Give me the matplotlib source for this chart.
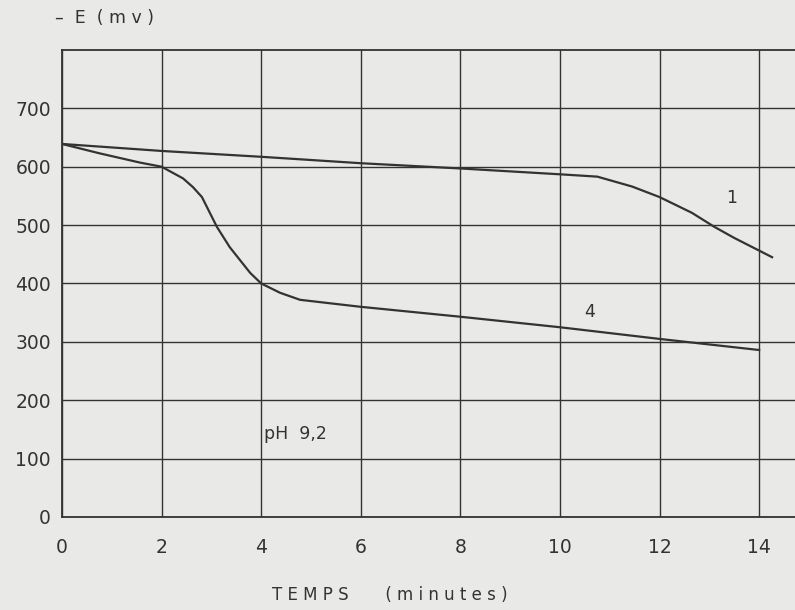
import matplotlib.pyplot as plt

# curve 1
t1 = [0, 2, 4, 6, 8, 10, 10.75, 11.45, 12, 12.65, 13.1, 13.5, 14.26]
e1 = [639, 627, 617, 606, 597, 587, 583, 566, 548, 521, 497, 478, 445]

# curve 4
t4 = [0, 0.75, 1.57, 2.0, 2.43, 2.63, 2.81, 3.11, 3.37, 3.78, 4.0, 4.38, 4.78, 6, 8, 10, 12, 14.0]
e4 = [639, 623, 607, 600, 580, 565, 548, 497, 462, 418, 400, 384, 372, 360, 343, 325, 305, 286]

x_ticks = [0, 2, 4, 6, 8, 10, 12, 14]
y_ticks = [0, 100, 200, 300, 400, 500, 600, 700]

BG = "#e9e9e7"
INK = "#333333"

plt.rcParams["font.family"] = ["DejaVu Sans"]

fig = plt.figure(figsize=(7.95, 6.10), dpi=100, facecolor=BG)
ax = fig.add_axes([0.078, 0.1525, 0.922, 0.7656], facecolor=BG)

ax.plot(t1, e1, color=INK, linewidth=1.6)
ax.plot(t4, e4, color=INK, linewidth=1.6)

ax.set_xlim(0, 14.72)
ax.set_ylim(0, 800)
ax.set_xticks(x_ticks)
ax.set_yticks(y_ticks)
ax.tick_params(length=0, labelsize=13.5, colors=INK)
ax.tick_params(axis="x", pad=15)
ax.tick_params(axis="y", pad=8)
ax.grid(color=INK, linewidth=1.0)
for s in ax.spines.values():
    s.set_color(INK)
    s.set_linewidth(1.3)
ax.spines["right"].set_visible(False)

ax.text(13.45, 546, "1", fontsize=12.5, color=INK, ha="center", va="center")
ax.text(10.6, 351, "4", fontsize=12.5, color=INK, ha="center", va="center")
ax.text(4.05, 142, "pH  9,2", fontsize=12.5, color=INK, ha="left", va="center")

fig.text(0.069, 0.970, "–  E  ( m v )", fontsize=12.5, color=INK, ha="left", va="center")
fig.text(0.342, 0.024, "T E M P S       ( m i n u t e s )", fontsize=12, color=INK,
         ha="left", va="center")

fig.savefig("out.png", dpi=100, facecolor=BG)
